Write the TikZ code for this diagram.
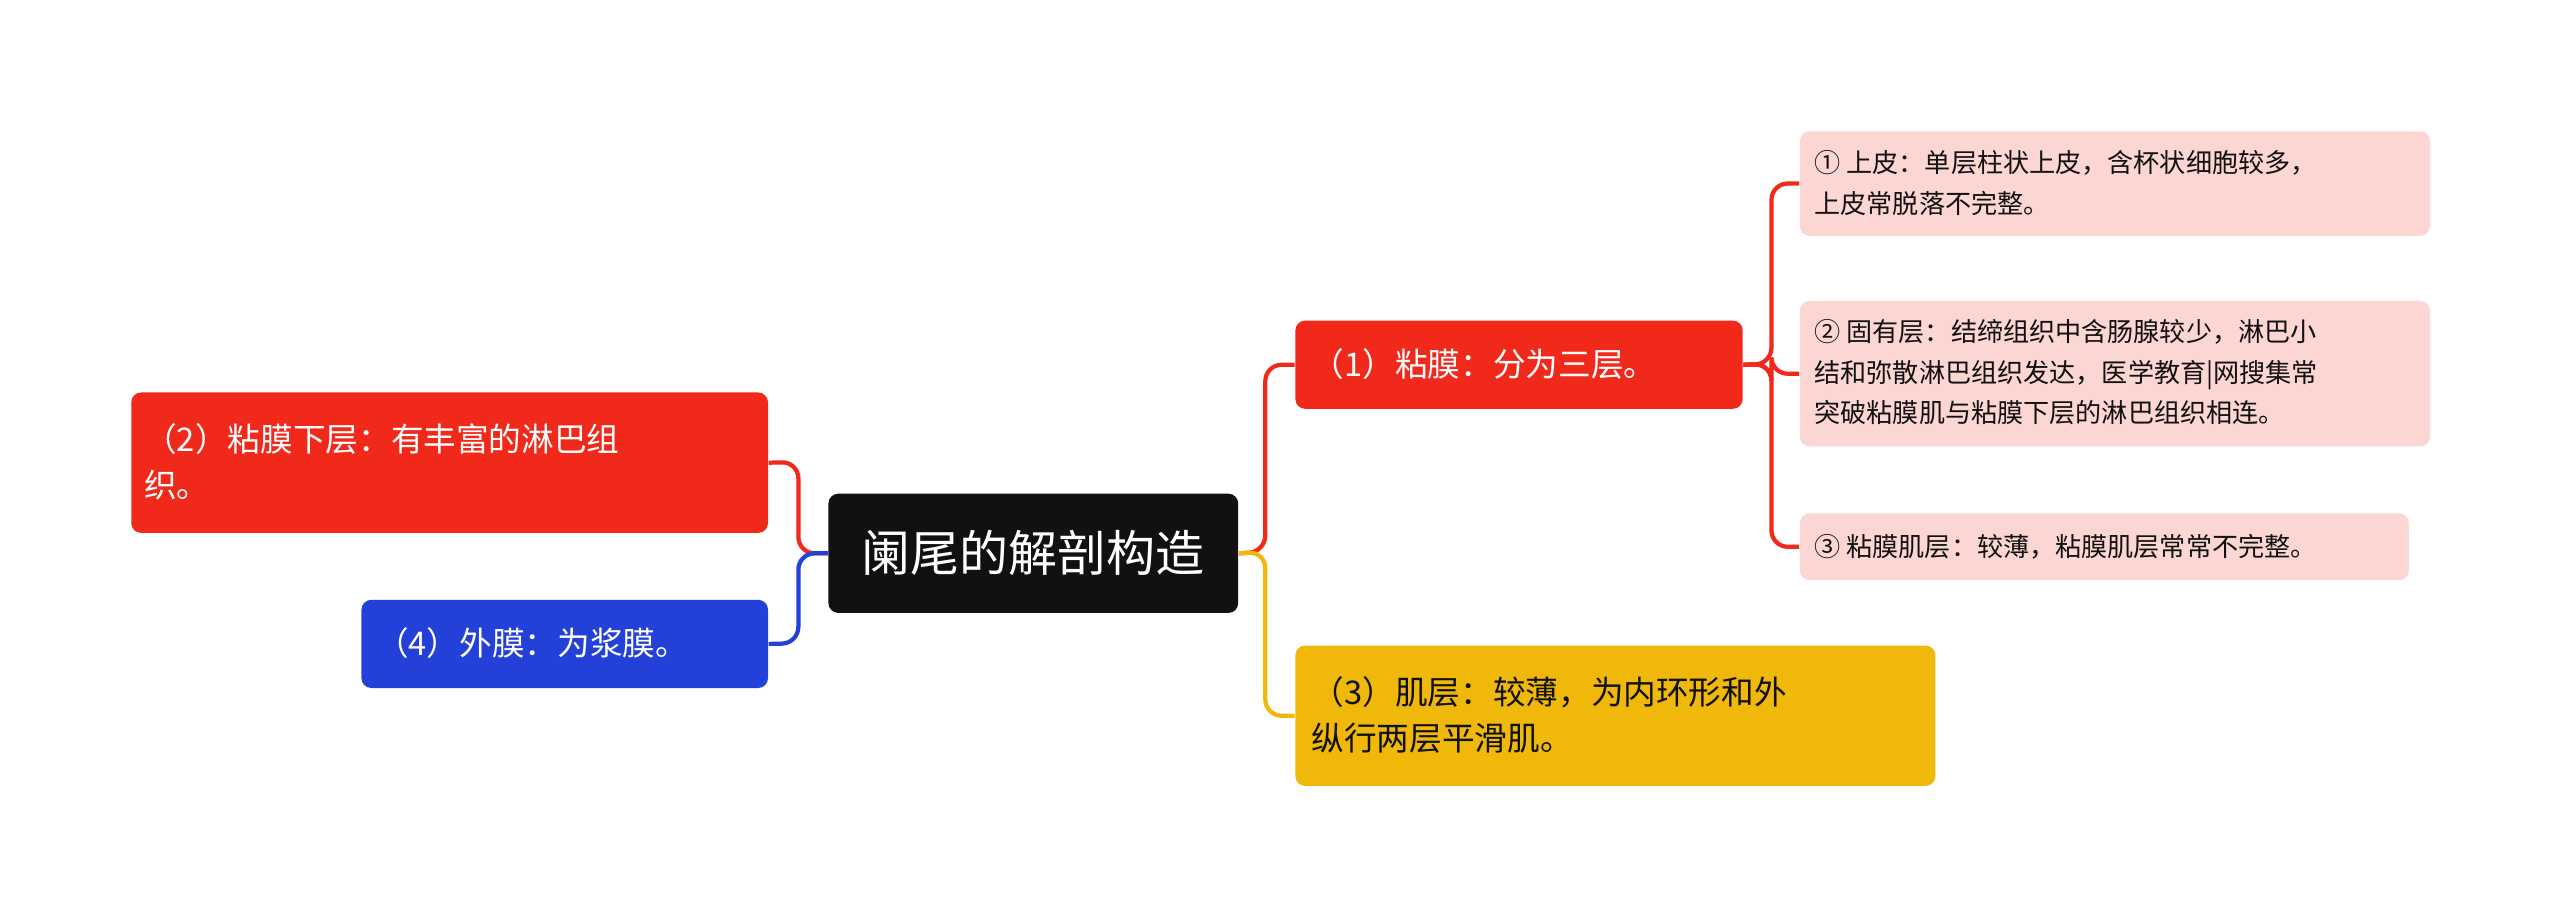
\documentclass[tikz,border=0pt]{standalone}
\usepackage{fontspec}
\setmainfont{Noto Sans CJK SC}
\definecolor{cred}{HTML}{F0291A}
\definecolor{cblue}{HTML}{2340D8}
\definecolor{cyel}{HTML}{F0B80A}
\definecolor{cpink}{HTML}{FCD6D3}
\definecolor{cblack}{HTML}{111111}
\begin{document}
\begin{tikzpicture}[x=0.5pt,y=-0.5pt,
 box/.style={rounded corners=3pt,inner sep=0pt,align=left,anchor=north west},
 conn/.style={line width=1.3pt,rounded corners=5pt}]
\useasboundingbox (0,0) rectangle (1568,561);
\node[box,fill=cblack,text=white,minimum width=251*0.5pt,minimum height=73*0.5pt,font=\fontsize{15}{18}\selectfont,align=center] (c) at (507,302) {阑尾的解剖构造};
\node[box,fill=cred,text=white,minimum width=390*0.5pt,minimum height=86*0.5pt] (l1) at (80,240) {};
\node[text=white,anchor=west,align=left,font=\fontsize{10}{14}\selectfont,inner sep=0pt] (l1t) at (88,283) {（2）粘膜下层：有丰富的淋巴组\\织。};
\node[box,fill=cblue,text=white,minimum width=249*0.5pt,minimum height=54*0.5pt] (l2) at (221,367) {};
\node[text=white,anchor=west,font=\fontsize{10}{14}\selectfont,inner sep=0pt] at (230,394) {（4）外膜：为浆膜。};
\node[box,fill=cred,minimum width=274*0.5pt,minimum height=54*0.5pt] (r1) at (793,196) {};
\node[text=white,anchor=west,font=\fontsize{10}{14}\selectfont,inner sep=0pt] at (803,223) {（1）粘膜：分为三层。};
\node[box,fill=cyel,minimum width=392*0.5pt,minimum height=86*0.5pt] (r3) at (793,395) {};
\node[text=cblack,anchor=west,align=left,font=\fontsize{10}{14}\selectfont,inner sep=0pt] at (803,438) {（3）肌层：较薄，为内环形和外\\纵行两层平滑肌。};
\node[box,fill=cpink,minimum width=386*0.5pt,minimum height=64*0.5pt] (s1) at (1102,80) {};
\node[text=cblack,anchor=west,align=left,font=\fontsize{8}{12.5}\selectfont,inner sep=0pt] at (1111,112) {① 上皮：单层柱状上皮，含杯状细胞较多，\\上皮常脱落不完整。};
\node[box,fill=cpink,minimum width=386*0.5pt,minimum height=89*0.5pt] (s2) at (1102,184) {};
\node[text=cblack,anchor=west,align=left,font=\fontsize{8}{12.5}\selectfont,inner sep=0pt] at (1111,228) {② 固有层：结缔组织中含肠腺较少，淋巴小\\结和弥散淋巴组织发达，医学教育|网搜集常\\突破粘膜肌与粘膜下层的淋巴组织相连。};
\node[box,fill=cpink,minimum width=373*0.5pt,minimum height=41*0.5pt] (s3) at (1102,314) {};
\node[text=cblack,anchor=west,font=\fontsize{8}{12.5}\selectfont,inner sep=0pt] at (1111,335) {③ 粘膜肌层：较薄，粘膜肌层常常不完整。};
\draw[conn,cred] (c.east) -- (775,338) |- (r1.west);
\draw[conn,cyel] (c.east) -- (775,338) |- (r3.west);
\draw[conn,cred] (l1.east) -- (489,283) |- (c.west);
\draw[conn,cblue] (l2.east) -- (489,394) |- (c.west);
\draw[conn,cred] (r1.east) -- (1085,223) |- (s1.west);
\draw[conn,cred] (r1.east) -- (1085,223) |- (s2.west);
\draw[conn,cred] (r1.east) -- (1085,223) |- (s3.west);
\end{tikzpicture}
\end{document}
